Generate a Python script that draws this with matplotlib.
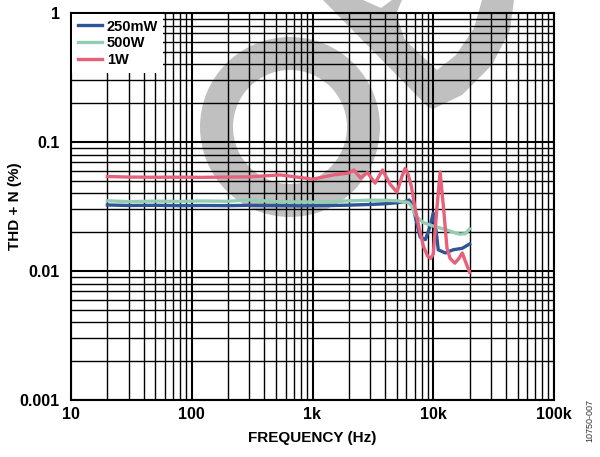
import numpy as np
import matplotlib
matplotlib.use("Agg")
import matplotlib.pyplot as plt
from matplotlib.patches import Wedge, Polygon
from matplotlib.ticker import FixedLocator, NullFormatter
from matplotlib.transforms import Affine2D

plt.rcParams["font.family"] = ["Liberation Sans", "DejaVu Sans"]
plt.rcParams["font.weight"] = "bold"

# THD+N vs frequency, three output power levels
freq_250mw = [20, 30, 50, 80, 120, 200, 300, 500, 800, 1000, 1500, 2000, 3000,
              4000, 5000, 5800, 6300, 6700, 7100, 7800, 8600, 9400, 10000,
              10500, 11000, 12600, 14600, 17400, 20000]
thdn_250mw = [0.0325, 0.0322, 0.0323, 0.0321, 0.0322, 0.0321, 0.0323, 0.0322,
              0.0320, 0.0321, 0.0322, 0.0324, 0.0328, 0.0332, 0.0338, 0.0345,
              0.0355, 0.0330, 0.0263, 0.0183, 0.0175, 0.0220, 0.0282, 0.0215,
              0.0146, 0.0138, 0.0146, 0.0150, 0.0162]

freq_500w = [20, 30, 50, 80, 120, 200, 300, 500, 800, 1000, 1500, 2000, 3000,
             4000, 5000, 6200, 6600, 7100, 7400, 8300, 10000, 13000, 15000,
             16600, 18500, 20000]
thdn_500w = [0.0350, 0.0345, 0.0348, 0.0346, 0.0349, 0.0347, 0.0356, 0.0345,
             0.0343, 0.0342, 0.0345, 0.0350, 0.0354, 0.0353, 0.0350, 0.0340,
             0.0320, 0.0272, 0.0260, 0.0237, 0.0223, 0.0208, 0.0198, 0.0193,
             0.0195, 0.0212]

freq_1w = [20, 30, 50, 80, 120, 200, 300, 540, 800, 1000, 1500, 2000, 2200,
           2500, 2850, 3300, 3800, 4400, 5000, 5500, 5850, 6200, 6600, 7000,
           7600, 8300, 9000, 9500, 10000, 10700, 11400, 12200, 13000, 13800,
           15100, 16300, 17400, 18500, 20000]
thdn_1w = [0.0540, 0.0535, 0.0533, 0.0534, 0.0532, 0.0535, 0.0537, 0.0556,
           0.0530, 0.0515, 0.0556, 0.0575, 0.0607, 0.0526, 0.0580, 0.0480,
           0.0607, 0.0470, 0.0408, 0.0540, 0.0625, 0.0560, 0.0450, 0.0320,
           0.0220, 0.0155, 0.0130, 0.0125, 0.0135, 0.0300, 0.0586, 0.0300,
           0.0150, 0.0125, 0.0115, 0.0125, 0.0138, 0.0118, 0.0098]

x_ticks = [10, 100, 1000, 10000, 100000]
x_labels = ["10", "100", "1k", "10k", "100k"]
y_ticks = [0.001, 0.01, 0.1, 1]
y_labels = ["0.001", "0.01", "0.1", "1"]

fig = plt.figure(figsize=(6.0, 4.57), dpi=100)
ax = fig.add_axes([71 / 600, 57 / 457, 483 / 600, 387 / 457])

ax.plot(freq_250mw, thdn_250mw, color="#2f5597", lw=2.4, label="250mW", zorder=3)
ax.plot(freq_500w, thdn_500w, color="#93cdb2", lw=2.4, label="500W", zorder=3)
ax.plot(freq_1w, thdn_1w, color="#e8617a", lw=2.4, label="1W", zorder=3)

ax.set_xscale("log")
ax.set_yscale("log")
ax.set_xlim(10, 100000)
ax.set_ylim(0.001, 1)

minor_x = [m * 10 ** d for d in range(1, 5) for m in range(2, 10)]
minor_y = [m * 10.0 ** d for d in range(-3, 0) for m in range(2, 10)]
ax.xaxis.set_major_locator(FixedLocator(x_ticks))
ax.yaxis.set_major_locator(FixedLocator(y_ticks))
ax.xaxis.set_minor_locator(FixedLocator(minor_x))
ax.yaxis.set_minor_locator(FixedLocator(minor_y))
ax.xaxis.set_minor_formatter(NullFormatter())
ax.yaxis.set_minor_formatter(NullFormatter())
ax.set_xticklabels(x_labels, fontsize=11.5, fontweight="bold")
ax.set_yticklabels(y_labels, fontsize=11.5, fontweight="bold")
ax.tick_params(axis="x", which="both", length=0, pad=5)
ax.tick_params(axis="y", which="both", length=0, pad=8)
ax.grid(True, which="major", color="black", lw=1.5)
ax.grid(True, which="minor", color="black", lw=1.0)
for s in ax.spines.values():
    s.set_linewidth(1.5)

ax.set_xlabel("FREQUENCY (Hz)", fontsize=11, fontweight="bold", va="center")
ax.set_ylabel("THD + N (%)", fontsize=11, fontweight="bold", va="center")
ax.xaxis.set_label_coords(0.5, (400 - 438) / 387)
ax.yaxis.set_label_coords((15 - 71) / 483, 0.5)

leg = ax.legend(loc="upper left", frameon=True, fancybox=False, framealpha=1,
                edgecolor="none", borderaxespad=0.1, borderpad=0.35,
                handlelength=1.7, handletextpad=0.3, labelspacing=0.2,
                prop={"size": 10.5, "weight": "bold"})
leg.get_frame().set_facecolor("white")
leg.set_zorder(5)

# grey watermark, in image pixels (origin top-left)
px = Affine2D().scale(1 / 600, -1 / 457).translate(0, 1) + fig.transFigure
ring = Wedge((290, 127), 90, 0, 360, width=33, transform=px,
             facecolor="#c0c0c0", edgecolor="none", zorder=0.5, clip_on=False)
ax.add_patch(ring)
shape = Polygon([(323, 0), (363, 0), (381, 8), (392, 0), (514, 0), (510, 30),
                 (492, 65), (462, 95), (433, 109), (428, 107)],
                closed=True, transform=px, facecolor="#c0c0c0",
                edgecolor="none", zorder=0.5, clip_on=False)
ax.add_patch(shape)
hole = Polygon([(402, 0), (482, 0), (474, 28), (456, 55), (437, 70), (405, 40),
                (396, 14)],
               closed=True, transform=px, facecolor="white",
               edgecolor="none", zorder=0.6, clip_on=False)
ax.add_patch(hole)

fig.text(590 / 600, 1 - 420 / 457, "10750-007", rotation=90, fontsize=6.5,
         fontweight="normal", color="#333333", ha="center", va="center")

fig.savefig("out.png", dpi=100)
